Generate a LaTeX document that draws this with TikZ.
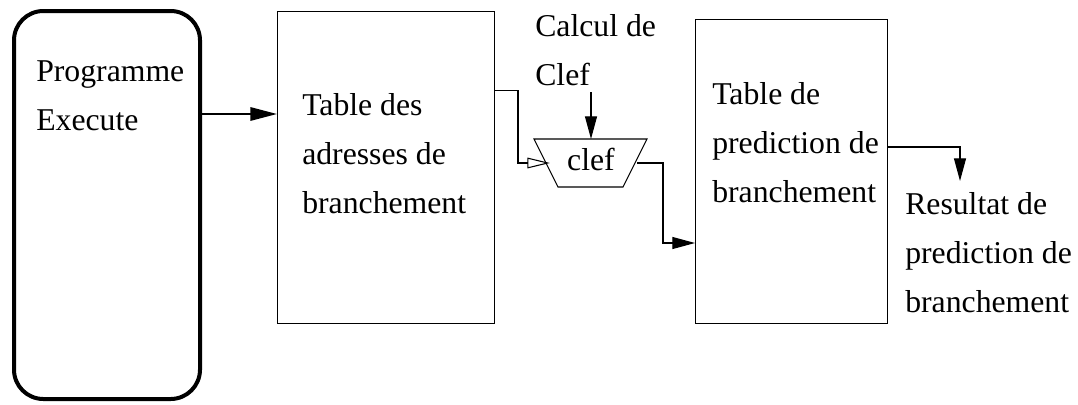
\documentclass[tikz,border=0pt]{standalone}
\usepackage{fontspec}
\setmainfont{Liberation Serif}
\usetikzlibrary{arrows.meta}
\begin{document}
\begin{tikzpicture}[x=0.75pt,y=-0.75pt,
  lbl/.style={font={\fontsize{23.8pt}{36.5pt}\selectfont}, align=left, inner sep=0pt, anchor=base west},
  tbox/.style={draw, line width=0.8pt, inner sep=0pt, anchor=north west},
  wire/.style={line width=0.8pt},
  tip/.style={-{Triangle[length=17pt,width=9pt]}},
  otip/.style={-{Triangle[open,length=17pt,width=8pt]}}]
\useasboundingbox (0,0) rectangle (1078,404);
% boxes
\node[draw, line width=3pt, rounded corners=22pt, anchor=north west, minimum width=186*0.75pt, minimum height=388*0.75pt] (prog) at (12,9) {};
\node[tbox, minimum width=217*0.75pt, minimum height=312*0.75pt] (t1) at (277,10.5) {};
\node[tbox, minimum width=192*0.75pt, minimum height=303.5*0.75pt] (t2) at (695,19) {};
% trapezoid
\coordinate (ka) at (534,139);
\coordinate (kb) at (647,139);
\coordinate (kc) at (623,187);
\coordinate (kd) at (558,187);
\draw[wire] (ka) -- (kb) -- (kc) -- (kd) -- cycle;
\node[lbl, anchor=base] (clef) at (591,170) {clef};
\coordinate (kin) at (550,163);
\coordinate (kout) at (637,163);
\coordinate (ktop) at (591,139);
% texts (anchored at the baseline of the last line)
\node[lbl] (ptxt) at (36,130) {Programme\\Execute};
\node[lbl] (t1txt) at (302,213) {Table des\\adresses de\\branchement};
\node[lbl] (calc) at (535,85) {Calcul de\\Clef};
\node[lbl] (t2txt) at (712,202) {Table de\\prediction de\\branchement};
\node[lbl] (res) at (905,312) {Resultat de\\prediction de\\branchement};
% connectors
\draw[line width=1.6pt, -{Triangle[length=20pt,width=10pt]}] (prog.east |- 0,114) -- (t1.west |- 0,114);
\draw[wire, otip] (t1.east |- 0,90.7) -| (518,163) -- (kin);
\draw[wire, tip] (591,92) -- (ktop);
\draw[wire, tip] (kout) -| (663,243) -- (t2.west |- 0,243);
\coordinate (rtip) at (960,181);
\draw[wire, tip] (t2.east |- 0,147) -| (rtip);
\end{tikzpicture}
\end{document}
